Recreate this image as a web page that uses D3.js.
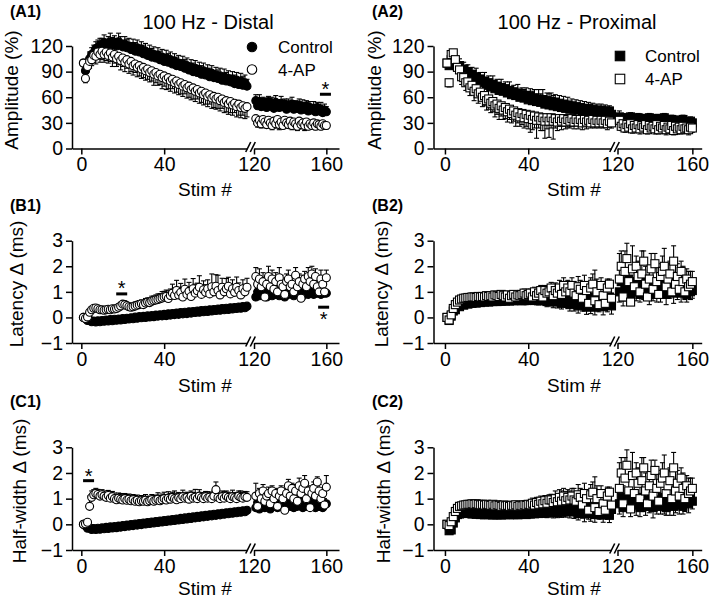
<!DOCTYPE html>
<html>
<head>
<meta charset="utf-8">
<script src="https://cdn.jsdelivr.net/npm/d3@7"></script>
<style>
  body { margin: 0; background: #fff; }
  svg { font-family: "Liberation Sans", Arial, sans-serif; }
</style>
</head>
<body>
<svg id="chart" width="709" height="604"></svg>
<script>
// stim numbers shown on each side of the axis break
var stimLeft = d3.range(1, 81);
var stimRight = d3.range(121, 161);
var seriesNames = ['Control', '4-AP'];
var titles = ['100 Hz - Distal', '100 Hz - Proximal'];
var yLabels = ['Amplitude (%)', 'Latency \u0394 (ms)', 'Half-width \u0394 (ms)'];
var ampTicks = [0, 30, 60, 90, 120];
var msTicks = [-1, 0, 1, 2, 3];

// ---- A1: amplitude, distal ----
var a1Ctrl = [100,91,96,105,110,112,117,118,121,120, 124,120,122,125,121,124,120,125,122,119,
  122,118,120,116,119,114,118,113,116,111, 114,109,112,107,110,106,109,104,107,102,
  106,101,104,99,102,97,100,96,99,94, 97,92,95,90,94,89,92,87,91,86,
  89,84,88,83,86,82,85,80,84,79, 82,78,81,76,80,75,79,74,77,73];
var a1CtrlR = [56,50,55,49,54,51,48,55,50,53, 47,54,50,48,53,49,52,46,51,48,
  52,46,50,47,51,45,49,46,50,44, 48,45,47,43,48,44,46,42,45,43];
var a1CtrlSem = [0,6,7,8,8,9,8,9,8,9, 9,8,9,10,9,8,9,10,9,8, 9,10,9,8,9,10,9,8,9,10, 9,8,9,10,9,8,9,10,9,8,
  9,10,9,8,9,10,9,8,9,10, 9,8,9,10,9,8,9,10,9,8, 9,10,9,8,9,10,9,8,9,10, 9,8,9,10,9,8,9,10,9,8];
var a1CtrlSemR = [7,6,8,7,6,8,7,6,8,7, 6,8,7,6,8,7,6,8,7,6, 8,7,6,8,7,6,8,7,6,8, 7,6,8,7,6,7,8,6,7,6];
var a1Ap = [100,82,96,102,104,109,108,113,110,114, 110,113,109,112,107,110,105,108,103,106,
  101,104,99,102,97,99,95,97,93,95, 91,93,89,91,87,89,85,87,83,85,
  81,83,79,81,77,79,75,77,73,75, 71,73,69,71,67,69,65,67,63,65,
  61,63,59,61,58,60,56,58,54,56, 52,55,51,53,49,52,48,50,47,49];
var a1ApR = [35,30,33,29,34,31,28,33,30,27, 32,29,34,28,31,27,33,30,28,32,
  27,31,29,26,32,28,30,27,31,26, 29,27,30,26,29,28,26,29,27,27];
var a1ApSem = [0,5,6,8,7,8,9,8,9,10, 9,10,9,10,11,10,9,10,11,10, 11,10,11,12,11,10,11,12,11,12, 11,12,11,12,13,12,11,12,13,12,
  12,13,12,11,12,13,12,13,12,11, 12,13,12,13,12,11,12,13,12,13, 12,11,12,13,12,13,12,11,12,13, 12,13,12,11,12,13,12,11,12,12];
var a1ApSemR = [6,5,6,5,6,5,4,6,5,5, 6,5,4,6,5,4,5,6,4,5, 5,4,6,5,4,5,4,6,5,4, 5,4,5,4,5,4,4,5,4,4];

// ---- A2: amplitude, proximal ----
var a2Ctrl = [100,97,104,102,99,96,97,92,93,88, 90,85,87,82,84,79,81,77,79,74,
  77,72,75,70,73,68,71,67,70,65, 68,63,66,62,65,60,63,59,62,57,
  61,56,59,55,58,54,57,52,56,51, 55,50,54,49,53,48,52,47,51,46,
  50,46,49,45,48,44,47,43,47,42, 46,42,45,41,45,41,44,40,44,40];
var a2CtrlR = [37,33,36,31,35,32,37,30,34,33, 36,30,35,32,34,29,36,31,33,30,
  35,29,33,31,36,29,32,30,34,28, 33,30,32,28,34,29,31,28,32,30];
var a2CtrlSem = [0,7,8,7,8,7,8,9,8,9, 8,9,8,9,10,9,8,9,10,9, 8,9,10,9,8,9,10,9,8,9, 10,9,8,9,10,9,8,10,9,10,
  9,11,10,9,11,10,12,10,9,13, 10,12,9,10,9,8,9,8,9,8, 8,7,8,7,8,7,8,7,7,8, 7,6,7,6,7,6,7,6,6,7];
var a2CtrlSemR = [7,6,5,6,5,6,5,6,5,6, 5,6,5,6,5,6,5,6,5,6, 5,6,5,6,5,6,5,6,5,6, 5,6,5,6,5,6,5,6,5,5];
var a2Ap = [100,77,110,112,104,95,92,84,83,77, 78,71,74,67,70,64,66,60,62,56,
  58,53,55,50,52,47,50,45,48,43, 46,41,44,39,42,37,41,36,40,35,
  39,34,38,33,37,33,36,32,36,32, 36,32,35,31,35,32,35,31,34,32,
  35,31,34,31,34,30,34,31,33,30, 34,30,33,30,33,30,33,29,32,30];
var a2ApR = [33,26,29,24,28,25,29,23,27,24, 28,23,27,25,28,22,27,24,26,23,
  28,22,26,24,27,22,25,23,27,21, 26,23,25,22,26,23,24,22,25,24];
var a2ApSem = [0,5,8,7,6,7,8,9,8,9, 10,9,10,11,10,11,10,11,12,11, 12,11,12,13,12,13,12,11,13,12, 12,11,12,13,12,11,13,12,14,12,
  20,12,14,21,13,12,15,20,13,19, 12,21,11,10,9,10,9,8,9,8, 9,8,7,8,7,8,7,8,7,6, 7,6,7,6,7,6,6,7,6,6];
var a2ApSemR = [9,5,6,5,6,5,6,5,6,5, 5,6,5,6,5,5,6,5,5,6, 5,5,6,5,5,6,5,5,6,5, 5,6,5,5,6,5,5,6,5,5];

// ---- B1: latency, distal ----
var b1Ctrl = [0,-0.04,-0.12,-0.1,-0.17,-0.14,-0.18,-0.13,-0.17,-0.12, -0.15,-0.1,-0.14,-0.08,-0.13,-0.07,-0.11,-0.06,-0.1,-0.04,
  -0.08,-0.03,-0.06,-0.01,-0.05,0.01,-0.03,0.03,-0.01,0.04, 0,0.06,0.02,0.07,0.03,0.09,0.05,0.1,0.06,0.12,
  0.07,0.14,0.09,0.15,0.11,0.17,0.12,0.19,0.14,0.2, 0.15,0.22,0.17,0.23,0.19,0.25,0.2,0.27,0.22,0.28,
  0.23,0.3,0.25,0.31,0.27,0.33,0.28,0.35,0.3,0.36, 0.31,0.38,0.33,0.39,0.35,0.41,0.36,0.43,0.38,0.44];
var b1CtrlR = [0.8,1.0,0.85,1.1,0.9,1.05,0.8,1.15,0.95,0.85, 1.1,0.9,1.0,0.85,1.15,0.95,0.8,1.05,0.9,1.1,
  0.95,0.85,1.1,0.9,1.0,1.15,0.85,1.05,0.95,0.9, 1.1,1.0,0.9,1.05,0.95,1.1,0.9,1.0,0.95,0.95];
var b1Ap = [0,-0.04,0.02,0.2,0.3,0.36,0.37,0.34,0.3,0.3, 0.28,0.3,0.32,0.3,0.34,0.33,0.35,0.4,0.45,0.52,
  0.5,0.46,0.42,0.4,0.42,0.45,0.48,0.5,0.53,0.5, 0.56,0.6,0.58,0.63,0.66,0.68,0.7,0.73,0.76,0.8,
  0.82,0.74,0.86,0.95,0.86,1.05,0.88,0.98,0.8,1.1, 0.9,1.02,0.82,1.12,0.95,1.04,1.18,0.9,1.08,0.98,
  1.12,0.92,1.2,1.0,1.22,1.05,0.88,1.18,1.0,1.12, 1.22,0.92,1.12,0.98,1.18,1.05,0.88,1.12,1.0,1.18];
var b1ApR = [1.6,1.3,1.5,1.2,1.4,0.8,1.3,1.6,1.2,1.5, 1.1,1.4,1.0,1.55,1.3,1.2,0.9,1.4,1.5,1.2,
  1.3,1.0,1.65,1.2,1.4,0.75,1.3,1.5,1.2,1.6, 1.4,1.7,1.3,1.6,1.2,1.0,1.5,1.3,1.0,1.55];
var b1ApSem = [0,0.05,0.05,0.1,0.12,0.1,0.1,0.1,0.1,0.1, 0.1,0.1,0.12,0.1,0.12,0.1,0.12,0.12,0.14,0.12,
  0.14,0.12,0.14,0.12,0.14,0.15,0.14,0.16,0.15,0.16, 0.18,0.16,0.18,0.2,0.18,0.2,0.22,0.2,0.25,0.22,
  0.25,0.3,0.25,0.35,0.3,0.4,0.3,0.35,0.3,0.4, 0.3,0.35,0.3,0.4,0.35,0.3,0.45,0.3,0.35,0.3,
  0.35,0.3,0.5,0.3,0.45,0.6,0.3,0.35,0.3,0.4, 0.35,0.3,0.35,0.3,0.4,0.3,0.3,0.35,0.3,0.35];
var b1ApSemR = [0.35,0.3,0.4,0.3,0.35,0.35,0.3,0.4,0.3,0.35, 0.3,0.35,0.3,0.4,0.35,0.3,0.35,0.3,0.35,0.3,
  0.3,0.35,0.3,0.35,0.3,0.3,0.35,0.3,0.3,0.35, 0.3,0.3,0.35,0.3,0.3,0.3,0.35,0.3,0.3,0.3];

// ---- B2: latency, proximal ----
var b2Ctrl = [0,-0.12,0.05,0.25,0.3,0.45,0.42,0.55,0.48,0.6, 0.52,0.62,0.55,0.64,0.56,0.66,0.58,0.67,0.6,0.68,
  0.6,0.7,0.62,0.7,0.62,0.72,0.63,0.73,0.64,0.72, 0.64,0.74,0.65,0.72,0.66,0.75,0.65,0.76,0.66,0.74,
  0.68,0.78,0.66,0.8,0.65,0.78,0.7,0.82,0.62,0.8, 0.7,0.6,0.85,0.62,0.8,0.55,0.85,0.6,0.78,0.5,
  0.82,0.55,0.75,0.45,0.85,0.5,0.7,0.4,0.8,0.45, 0.75,0.4,0.7,0.5,0.85,0.42,0.72,0.5,0.8,0.45];
var b2CtrlR = [1.0,1.4,0.8,1.3,1.1,1.5,0.9,1.2,1.4,1.0, 1.3,0.9,1.4,1.1,1.5,1.2,0.9,1.3,1.0,1.4,
  0.9,1.3,1.0,1.2,1.5,0.9,1.3,1.1,1.4,0.95, 1.2,1.0,1.3,0.95,1.25,1.05,0.9,1.2,1.0,1.05];
var b2CtrlSem = [0,0.05,0.08,0.1,0.1,0.12,0.1,0.12,0.1,0.12, 0.1,0.12,0.1,0.12,0.1,0.12,0.1,0.12,0.1,0.12,
  0.12,0.1,0.12,0.14,0.12,0.1,0.14,0.12,0.1,0.14, 0.12,0.14,0.12,0.1,0.14,0.12,0.14,0.12,0.16,0.14,
  0.15,0.18,0.15,0.2,0.16,0.18,0.2,0.16,0.2,0.18, 0.2,0.22,0.18,0.25,0.2,0.22,0.25,0.2,0.22,0.25,
  0.25,0.3,0.25,0.28,0.3,0.25,0.3,0.28,0.32,0.3, 0.28,0.3,0.32,0.28,0.3,0.32,0.3,0.28,0.3,0.32];
var b2CtrlSemR = [0.4,0.3,0.35,0.3,0.4,0.35,0.3,0.4,0.3,0.35, 0.4,0.3,0.35,0.4,0.3,0.35,0.4,0.3,0.35,0.4,
  0.3,0.35,0.4,0.3,0.35,0.4,0.3,0.35,0.3,0.4, 0.35,0.3,0.4,0.35,0.3,0.35,0.3,0.35,0.3,0.3];
var b2Ap = [0,-0.1,0.1,0.35,0.5,0.6,0.68,0.72,0.75,0.76, 0.78,0.78,0.8,0.8,0.78,0.82,0.8,0.82,0.8,0.85,
  0.82,0.85,0.8,0.88,0.85,0.82,0.9,0.85,0.8,0.88, 0.75,0.85,0.9,0.8,0.88,0.85,0.9,0.95,0.85,0.9,
  0.95,0.8,1.0,0.85,0.95,1.05,0.8,1.05,0.95,1.0, 1.15,0.85,1.05,0.95,1.15,0.9,1.25,1.0,1.15,1.0,
  1.25,0.95,0.85,1.2,1.1,0.75,1.25,1.05,0.55,1.15, 1.3,0.65,1.0,0.5,1.25,0.85,0.55,1.15,1.3,0.75];
var b2ApR = [1.5,2.0,0.8,1.8,2.3,1.4,0.6,1.9,1.2,2.0, 1.6,1.0,1.7,2.2,1.3,0.8,1.5,1.9,1.1,2.1,
  1.4,0.9,1.6,1.8,2.0,1.2,1.5,1.7,1.0,2.2, 1.3,1.6,1.1,1.8,1.4,1.0,1.5,1.2,1.3,1.4];
var b2ApSem = [0,0.05,0.08,0.1,0.12,0.12,0.14,0.12,0.14,0.12, 0.14,0.12,0.14,0.12,0.14,0.12,0.14,0.15,0.12,0.14,
  0.12,0.14,0.12,0.14,0.12,0.14,0.12,0.14,0.12,0.15, 0.14,0.12,0.15,0.14,0.12,0.15,0.14,0.16,0.14,0.15,
  0.16,0.2,0.18,0.2,0.18,0.2,0.22,0.2,0.25,0.2, 0.22,0.25,0.3,0.25,0.3,0.4,0.3,0.35,0.3,0.35,
  0.3,0.45,0.35,0.4,0.35,0.4,0.4,0.35,0.45,0.4, 0.4,1.2,0.5,0.6,0.3,0.5,0.6,0.35,0.2,0.5];
var b2ApSemR = [1.0,0.6,0.7,0.8,0.6,0.5,0.8,0.9,0.7,0.4, 0.6,0.7,0.9,0.4,0.7,0.6,0.5,0.6,0.8,0.4,
  0.6,0.8,0.5,0.6,0.7,0.5,0.6,0.5,0.8,0.6, 0.9,0.5,0.6,0.4,0.6,0.5,0.4,0.6,0.5,0.4];

// ---- C1: half-width, distal ----
var c1Ctrl = [0,-0.06,-0.15,-0.13,-0.2,-0.16,-0.2,-0.15,-0.19,-0.14, -0.17,-0.12,-0.16,-0.1,-0.14,-0.09,-0.13,-0.07,-0.11,-0.05,
  -0.09,-0.03,-0.07,-0.01,-0.05,0.01,-0.03,0.03,-0.01,0.05, 0.01,0.07,0.03,0.09,0.05,0.11,0.07,0.13,0.09,0.15,
  0.11,0.17,0.13,0.19,0.15,0.21,0.17,0.23,0.19,0.25, 0.21,0.27,0.23,0.29,0.25,0.31,0.27,0.33,0.29,0.35,
  0.31,0.37,0.33,0.39,0.35,0.41,0.37,0.43,0.39,0.45, 0.41,0.47,0.43,0.49,0.45,0.51,0.47,0.53,0.49,0.55];
var c1CtrlR = [0.65,0.85,0.6,0.8,0.9,0.65,0.85,0.7,0.6,0.85, 0.7,0.9,0.65,0.85,0.7,0.95,0.65,0.8,0.9,0.7,
  0.85,0.65,0.9,0.7,0.95,0.75,0.65,0.9,0.7,0.85, 0.95,0.7,0.9,0.65,0.85,0.7,0.9,0.65,0.8,0.8];
var c1Ap = [0,0.02,0.08,0.7,1.05,1.15,1.2,1.16,1.1,1.15, 1.1,1.05,1.12,1.02,1.08,1.0,0.96,1.02,0.98,0.95,
  1.0,0.94,0.98,0.92,0.96,0.9,0.94,0.88,0.92,0.9, 0.94,0.88,0.92,0.96,0.9,0.94,0.98,0.92,0.96,1.0,
  0.95,1.02,0.98,1.05,1.0,0.96,1.04,1.0,1.08,1.02, 1.05,0.98,1.1,1.02,1.06,1.0,1.1,1.04,1.0,1.08,
  1.02,1.06,1.0,1.1,1.35,1.05,1.0,1.08,1.02,1.1, 1.05,1.0,1.08,1.04,1.0,1.1,1.05,1.02,1.08,1.05];
var c1ApR = [1.1,0.7,1.2,1.0,1.3,0.9,1.1,1.2,0.8,1.3, 1.0,1.2,0.7,1.1,1.3,1.0,0.55,1.2,1.5,1.1,
  1.4,1.0,1.3,0.9,1.5,1.2,1.4,1.6,1.0,1.3, 0.65,1.2,1.4,1.1,1.65,1.3,1.0,1.2,0.75,1.45];
var c1ApSem = [0,0.05,0.1,0.4,0.25,0.2,0.2,0.2,0.18,0.2, 0.2,0.18,0.2,0.18,0.2,0.22,0.18,0.2,0.22,0.2,
  0.2,0.22,0.2,0.18,0.2,0.22,0.2,0.18,0.2,0.2, 0.22,0.2,0.18,0.2,0.22,0.2,0.25,0.2,0.22,0.25,
  0.2,0.25,0.22,0.2,0.3,0.25,0.2,0.22,0.25,0.2, 0.2,0.25,0.2,0.22,0.3,0.2,0.25,0.2,0.22,0.2,
  0.25,0.2,0.22,0.2,0.3,0.2,0.2,0.22,0.25,0.2, 0.2,0.22,0.25,0.2,0.22,0.2,0.25,0.22,0.2,0.22];
var c1ApSemR = [0.5,0.3,0.2,0.3,0.25,0.3,0.2,0.25,0.3,0.2, 0.25,0.2,0.3,0.25,0.2,0.3,0.4,0.2,0.25,0.3,
  0.2,0.3,0.25,0.2,0.3,0.25,0.2,0.3,0.25,0.2, 0.3,0.2,0.25,0.3,0.2,0.25,0.3,0.2,0.25,0.45];

// ---- C2: half-width, proximal ----
var c2Ctrl = [0,-0.25,-0.22,0.05,0.25,0.38,0.4,0.48,0.44,0.5, 0.42,0.47,0.4,0.46,0.39,0.45,0.38,0.44,0.37,0.45,
  0.38,0.44,0.36,0.45,0.37,0.44,0.36,0.46,0.38,0.45, 0.37,0.46,0.38,0.47,0.37,0.48,0.39,0.47,0.38,0.49,
  0.4,0.5,0.41,0.52,0.42,0.53,0.43,0.55,0.44,0.56, 0.5,0.45,0.6,0.46,0.62,0.47,0.64,0.48,0.62,0.5,
  0.66,0.48,0.62,0.42,0.7,0.5,0.4,0.66,0.48,0.42, 0.7,0.38,0.62,0.45,0.68,0.36,0.6,0.64,0.35,0.58];
var c2CtrlR = [0.8,1.05,0.65,0.95,0.85,1.05,0.7,0.95,1.0,0.75, 0.95,0.65,1.05,0.8,0.7,0.95,0.75,1.05,0.65,0.9,
  0.75,0.95,0.7,1.05,0.8,0.65,0.95,0.75,1.0,0.7, 0.85,0.95,0.75,1.0,0.7,0.85,0.95,0.8,1.0,0.9];
var c2CtrlSem = [0,0.05,0.06,0.08,0.1,0.1,0.1,0.12,0.1,0.1, 0.12,0.1,0.1,0.12,0.1,0.1,0.12,0.1,0.1,0.12,
  0.1,0.12,0.1,0.1,0.12,0.1,0.12,0.1,0.1,0.12, 0.1,0.12,0.1,0.12,0.1,0.12,0.1,0.12,0.14,0.12,
  0.14,0.12,0.14,0.16,0.14,0.16,0.14,0.16,0.18,0.16, 0.18,0.2,0.18,0.2,0.22,0.2,0.22,0.2,0.22,0.25,
  0.22,0.25,0.22,0.25,0.28,0.25,0.3,0.25,0.28,0.3, 0.25,0.3,0.28,0.25,0.3,0.28,0.25,0.3,0.28,0.25];
var c2CtrlSemR = [0.4,0.3,0.35,0.4,0.3,0.35,0.4,0.3,0.35,0.4, 0.3,0.35,0.4,0.3,0.35,0.4,0.3,0.35,0.4,0.3,
  0.35,0.4,0.3,0.35,0.4,0.3,0.35,0.4,0.3,0.35, 0.4,0.3,0.35,0.4,0.3,0.35,0.3,0.35,0.3,0.3];
var c2Ap = [0,-0.05,0.1,0.3,0.5,0.62,0.7,0.72,0.75,0.76, 0.78,0.78,0.8,0.78,0.8,0.78,0.76,0.78,0.75,0.78,
  0.76,0.74,0.78,0.72,0.76,0.74,0.7,0.75,0.72,0.74, 0.7,0.74,0.72,0.76,0.7,0.74,0.72,0.76,0.74,0.78,
  0.76,0.82,0.75,0.85,0.78,0.9,0.8,0.92,0.82,0.95, 0.95,0.85,1.0,0.88,1.05,0.9,1.1,0.92,1.05,0.95,
  1.1,0.95,0.9,1.15,1.05,0.75,1.2,1.0,0.55,1.15, 1.25,0.65,1.0,0.5,1.2,0.8,0.55,1.1,1.25,0.75];
var c2ApR = [1.4,2.0,0.8,1.8,2.3,1.3,0.6,1.9,1.2,2.0, 1.6,1.0,1.7,2.2,1.3,0.8,1.5,1.9,1.1,2.1,
  1.4,0.9,1.6,1.8,2.0,1.2,1.5,1.7,1.0,2.2, 1.3,1.6,1.1,1.8,1.4,1.0,1.5,1.2,1.3,1.4];
var c2ApSem = [0,0.05,0.08,0.1,0.12,0.12,0.14,0.12,0.14,0.12, 0.14,0.12,0.14,0.12,0.14,0.12,0.14,0.15,0.12,0.14,
  0.12,0.14,0.12,0.14,0.12,0.14,0.12,0.14,0.12,0.15, 0.14,0.12,0.15,0.14,0.12,0.15,0.14,0.16,0.14,0.15,
  0.16,0.2,0.18,0.2,0.18,0.2,0.22,0.2,0.25,0.2, 0.22,0.25,0.3,0.25,0.3,0.4,0.3,0.35,0.3,0.35,
  0.3,0.45,0.35,0.4,0.35,0.4,0.4,0.35,0.45,0.4, 0.4,1.2,0.5,0.6,0.3,0.5,0.6,0.35,0.2,0.5];
var c2ApSemR = [1.0,0.6,0.7,0.8,0.6,0.5,0.8,0.9,0.7,0.4, 0.6,0.7,0.9,0.4,0.7,0.6,0.5,0.6,0.8,0.4,
  0.6,0.8,0.5,0.6,0.7,0.5,0.6,0.5,0.8,0.6, 0.9,0.5,0.6,0.4,0.6,0.5,0.4,0.6,0.5,0.4];

// significance marks: [panel, stim, bar value, star value]
var marks = [
  ['A1', 159.5, 63.5, 74],
  ['B1', 19.5, 0.92, 1.31],
  ['B1', 158.5, 0.40, 0.09],
  ['C1', 3.5, 1.70, 2.05]
];

// ---- layout ----
var columns = [
  { axisX: 72, left: [[-4.5, 80], [72, 247]], right: [[120, 167], [254, 339]],
    panelX: 10, titleX: 208, stimX: 205, ylabX: [18, 23, 26], marker: 'circle',
    legend: { x: 252, text: 278, y: [47, 69.5] } },
  { axisX: 433.5, left: [[-5.5, 80], [433.5, 611.5]], right: [[120, 165], [617.5, 701.7]],
    panelX: 372, titleX: 577, stimX: 574, ylabX: [381, 388, 390], marker: 'square',
    legend: { x: 620, text: 645, y: [56, 79] } }
];
var rows = [
  { range: [148.5, 46], domain: [0, 120], ticks: ampTicks, label: yLabels[0], labelY: 90, panelY: 17, stimY: 196 },
  { range: [343, 240.7], domain: [-1, 3], ticks: msTicks, label: yLabels[1], labelY: 284, panelY: 211, stimY: 392 },
  { range: [550, 447.3], domain: [-1, 3], ticks: msTicks, label: yLabels[2], labelY: 491, panelY: 407, stimY: 595 }
];

var panels = [
  { id: 'A1', col: 0, row: 0, ctrl: [a1Ctrl, a1CtrlR, a1CtrlSem, a1CtrlSemR, 1], ap: [a1Ap, a1ApR, a1ApSem, a1ApSemR, -1] },
  { id: 'A2', col: 1, row: 0, ctrl: [a2Ctrl, a2CtrlR, a2CtrlSem, a2CtrlSemR, 1], ap: [a2Ap, a2ApR, a2ApSem, a2ApSemR, -1] },
  { id: 'B1', col: 0, row: 1, ctrl: [b1Ctrl, b1CtrlR, null, null, -1], ap: [b1Ap, b1ApR, b1ApSem, b1ApSemR, 1] },
  { id: 'B2', col: 1, row: 1, ctrl: [b2Ctrl, b2CtrlR, b2CtrlSem, b2CtrlSemR, -1], ap: [b2Ap, b2ApR, b2ApSem, b2ApSemR, 1] },
  { id: 'C1', col: 0, row: 2, ctrl: [c1Ctrl, c1CtrlR, null, null, -1], ap: [c1Ap, c1ApR, c1ApSem, c1ApSemR, 1] },
  { id: 'C2', col: 1, row: 2, ctrl: [c2Ctrl, c2CtrlR, c2CtrlSem, c2CtrlSemR, -1], ap: [c2Ap, c2ApR, c2ApSem, c2ApSemR, 1] }
];

var svg = d3.select('#chart');
var markSize = 8;

function drawMarker(sel, shape, fill, size) {
  if (shape === 'circle') {
    sel.append('circle').attr('r', size / 2);
  } else {
    sel.append('rect').attr('x', -size / 2).attr('y', -size / 2)
      .attr('width', size).attr('height', size);
  }
  sel.selectAll('circle,rect')
    .attr('fill', fill).attr('stroke', '#000').attr('stroke-width', 1.1);
}

panels.forEach(function(p) {
  var c = columns[p.col];
  var r = rows[p.row];
  var g = svg.append('g');

  var xL = d3.scaleLinear().domain(c.left[0]).range(c.left[1]);
  var xR = d3.scaleLinear().domain(c.right[0]).range(c.right[1]);
  var y = d3.scaleLinear().domain(r.domain).range(r.range);
  var xAt = function(s) { return s > 100 ? xR(s) : xL(s); };
  var fmt = d3.format('d');

  // axes
  var yAx = g.append('g').attr('transform', 'translate(' + c.axisX + ',0)')
    .call(d3.axisLeft(y).tickValues(r.ticks).tickFormat(fmt).tickSize(6).tickSizeOuter(0).tickPadding(3));
  var xAxL = g.append('g').attr('transform', 'translate(0,' + r.range[0] + ')')
    .call(d3.axisBottom(xL).tickValues([0, 40]).tickFormat(fmt).tickSize(6).tickSizeOuter(0).tickPadding(3));
  var xAxR = g.append('g').attr('transform', 'translate(0,' + r.range[0] + ')')
    .call(d3.axisBottom(xR).tickValues([120, 160]).tickFormat(fmt).tickSize(6).tickSizeOuter(0).tickPadding(3));
  [yAx, xAxL, xAxR].forEach(function(a) {
    a.selectAll('path, line').attr('stroke', '#000').attr('stroke-width', 1.5);
    a.selectAll('text').attr('font-size', 19.5).attr('fill', '#000')
      .attr('font-family', '"Liberation Sans", Arial, sans-serif');
  });

  // axis break slashes
  var bx = (c.left[1][1] + c.right[1][0]) / 2;
  [-2.3, 2.3].forEach(function(off) {
    g.append('line')
      .attr('x1', bx + off - 2.5).attr('y1', r.range[0] + 3.5)
      .attr('x2', bx + off + 2.5).attr('y2', r.range[0] - 6.5)
      .attr('stroke', '#000').attr('stroke-width', 1.6);
  });

  // series: error bars behind markers, control first
  [['ctrl', '#000'], ['ap', '#fff']].forEach(function(sd) {
    var s = p[sd[0]];
    var pts = stimLeft.map(function(st, i) {
      return { s: st, v: s[0][i], e: s[2] ? s[2][i] : 0 };
    }).concat(stimRight.map(function(st, i) {
      return { s: st, v: s[1][i], e: s[3] ? s[3][i] : 0 };
    }));
    var dir = s[4];
    var eb = g.append('g').attr('stroke', '#000').attr('stroke-width', 1.1);
    pts.filter(function(d) { return d.e > 0; }).forEach(function(d) {
      var x = xAt(d.s), y0 = y(d.v), y1 = y(d.v + dir * d.e);
      eb.append('line').attr('x1', x).attr('x2', x).attr('y1', y0).attr('y2', y1);
      eb.append('line').attr('x1', x - 2.5).attr('x2', x + 2.5).attr('y1', y1).attr('y2', y1);
    });
    var mg = g.append('g');
    pts.forEach(function(d) {
      var m = mg.append('g').attr('transform', 'translate(' + xAt(d.s) + ',' + y(d.v) + ')');
      drawMarker(m, c.marker, sd[1], markSize);
    });
  });

  // significance marks
  marks.filter(function(m) { return m[0] === p.id; }).forEach(function(m) {
    var x = xAt(m[1]);
    g.append('line').attr('x1', x - 5.5).attr('x2', x + 5.5)
      .attr('y1', y(m[2])).attr('y2', y(m[2]))
      .attr('stroke', '#000').attr('stroke-width', 3);
    g.append('text').attr('x', x).attr('y', y(m[3]) + 11)
      .attr('text-anchor', 'middle').attr('font-size', 20).text('*');
  });

  // labels
  g.append('text').attr('x', c.panelX).attr('y', r.panelY)
    .attr('font-size', 16).attr('font-weight', 'bold').text('(' + p.id + ')');
  g.append('text').attr('x', c.stimX).attr('y', r.stimY)
    .attr('text-anchor', 'middle').attr('font-size', 19).text('Stim #');
  g.append('text')
    .attr('transform', 'translate(' + c.ylabX[p.row] + ',' + r.labelY + ') rotate(-90)')
    .attr('text-anchor', 'middle').attr('font-size', 19).text(r.label);

  if (p.row === 0) {
    g.append('text').attr('x', c.titleX).attr('y', 29)
      .attr('text-anchor', 'middle').attr('font-size', 20).text(titles[p.col]);
    var lg = g.append('g');
    seriesNames.forEach(function(name, i) {
      var m = lg.append('g').attr('transform', 'translate(' + c.legend.x + ',' + c.legend.y[i] + ')');
      drawMarker(m, c.marker, i === 0 ? '#000' : '#fff', 9.5);
      lg.append('text').attr('x', c.legend.text).attr('y', c.legend.y[i] + 6)
        .attr('font-size', 17).text(name);
    });
  }
});
</script>
</body>
</html>
